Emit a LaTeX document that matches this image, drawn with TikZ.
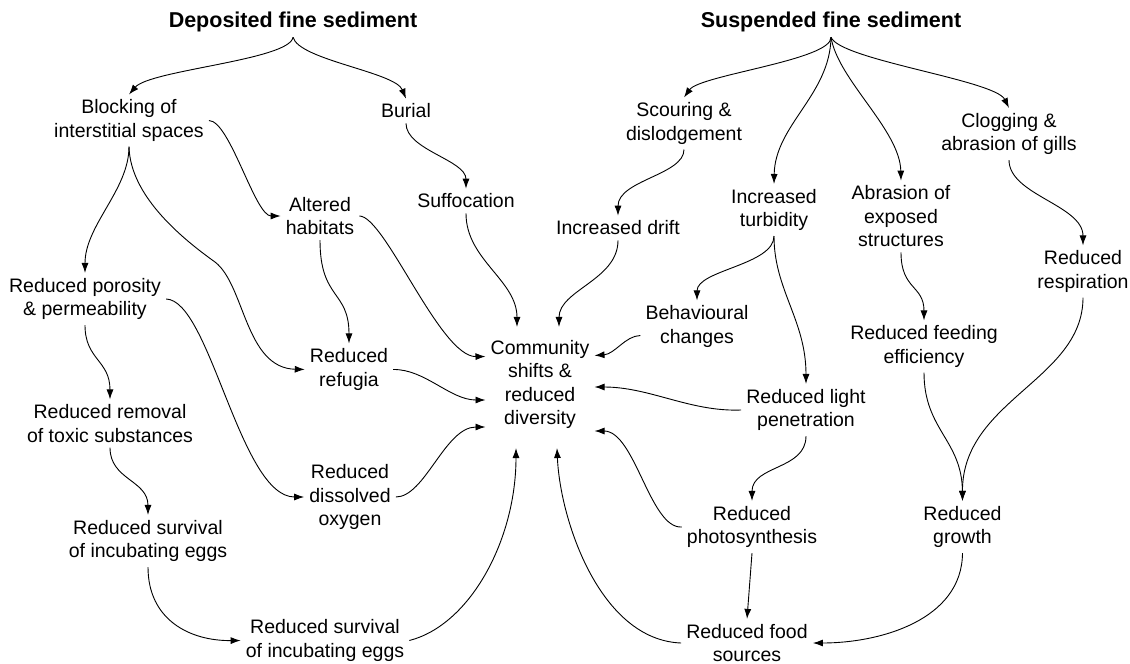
\documentclass[tikz,border=0pt]{standalone}
\usepackage{fontspec}
\setmainfont{Liberation Sans}
\usetikzlibrary{arrows.meta}
\begin{document}
\begin{tikzpicture}[x=1pt,y=-1pt,
  box/.style={align=center,inner sep=5pt,font=\fontsize{19.5}{23.5}\selectfont},
  ttl/.style={align=center,inner sep=5pt,font=\fontsize{21.5}{25}\selectfont\bfseries},
  con/.style={line width=0.9pt,-{Latex[length=10pt,width=7pt]}}]
\useasboundingbox (0,0) rectangle (1130,664);
% left side nodes
\node[ttl] (tdep) at (293,22) {Deposited fine sediment};
\node[box] (blk) at (129,120.5) {Blocking of\\interstitial spaces};
\node[box] (bur) at (406,111) {Burial};
\node[box] (suf) at (466,201) {Suffocation};
\node[box] (alt) at (320,216) {Altered\\habitats};
\node[box] (por) at (85,299) {Reduced porosity\\\& permeability};
\node[box] (ref) at (349,369.5) {Reduced\\refugia};
\node[box] (rem) at (110,423.5) {Reduced removal\\of toxic substances};
\node[box] (oxy) at (350,497) {Reduced\\dissolved\\oxygen};
\node[box] (sv1) at (148,541) {Reduced survival\\of incubating eggs};
\node[box] (sv2) at (325,640.5) {Reduced survival\\of incubating eggs};
\node[box] (com) at (540,384.5) {Community\\shifts \&\\reduced\\diversity};
% right side nodes
\node[ttl] (tsus) at (831,22) {Suspended fine sediment};
\node[box] (sco) at (684,123.5) {Scouring \&\\dislodgement};
\node[box] (dri) at (618,228) {Increased drift};
\node[box] (tur) at (774,210) {Increased\\turbidity};
\node[box] (abr) at (901,216.5) {Abrasion of\\exposed\\structures};
\node[box] (clo) at (1009,134) {Clogging \&\\abrasion of gills};
\node[box] (res) at (1083,271.5) {Reduced\\respiration};
\node[box] (beh) at (697,326.5) {Behavioural\\changes};
\node[box] (fee) at (924,346.5) {Reduced feeding\\efficiency};
\node[box] (lig) at (806,410) {Reduced light\\penetration};
\node[box] (pho) at (752,527) {Reduced\\photosynthesis};
\node[box] (gro) at (962.5,527) {Reduced\\growth};
\node[box] (foo) at (747,643) {Reduced food\\sources};
% left connectors
\draw[con] (tdep.south) .. controls (290,60) and (150,70) .. (blk.north);
\draw[con] (tdep.south) .. controls (299,60) and (395,72) .. (bur.north);
\draw[con] (blk.south) .. controls (129,190) and (85,225) .. (por.north);
\draw[con] (blk.south) .. controls (130,190) and (170,230) .. (215,262) .. controls (245,285) and (245,368) .. (ref.west);
\draw[con] (blk.east) .. controls (230,121) and (255,216) .. (alt.west);
\draw[con] (bur.south) .. controls (406,150) and (466,160) .. (suf.north);
\draw[con] (alt.south) .. controls (320,300) and (349,290) .. (ref.north);
\draw[con] (alt.east) .. controls (385,216) and (440,357) .. ([yshift=28pt]com.west);
\draw[con] (suf.south) .. controls (466,260) and (517,280) .. ([xshift=-23pt,yshift=8pt]com.north);
\draw[con] (ref.east) .. controls (425,369) and (450,400) .. ([yshift=-15.5pt]com.west);
\draw[con] (oxy.east) .. controls (425,497) and (445,427) .. ([yshift=-42.5pt]com.west);
\draw[con] (por.east) .. controls (210,300) and (240,497) .. (oxy.west);
\draw[con] (por.south) .. controls (85,360) and (110,360) .. (rem.north);
\draw[con] (rem.south) .. controls (110,480) and (148,480) .. (sv1.north);
\draw[con] (sv1.south) .. controls (148,620) and (190,641) .. (sv2.west);
\draw[con] (sv2.east) .. controls (470,625) and (516,540) .. ([xshift=-24pt,yshift=-14pt]com.south);
% right connectors
\draw[con] (tsus.south) .. controls (832,60) and (700,75) .. (sco.north);
\draw[con] (tsus.south) .. controls (830,95) and (775,125) .. (tur.north);
\draw[con] (tsus.south) .. controls (838,80) and (900,130) .. (abr.north);
\draw[con] (tsus.south) .. controls (840,60) and (995,80) .. (clo.north);
\draw[con] (sco.south) .. controls (684,175) and (618,180) .. (dri.north);
\draw[con] (dri.south) .. controls (618,280) and (559,290) .. ([xshift=19pt,yshift=8pt]com.north);
\draw[con] (tur.south) .. controls (774,265) and (697,270) .. (beh.north);
\draw[con] (tur.south) .. controls (774,290) and (806,320) .. (lig.north);
\draw[con] ([yshift=-9pt]beh.west) .. controls (625,336) and (615,354) .. ([yshift=29pt]com.east);
\draw[con] (lig.west) .. controls (690,412) and (650,387) .. ([yshift=-2.5pt]com.east);
\draw[con] (lig.south) .. controls (806,470) and (752,465) .. (pho.north);
\draw[con] (pho.west) .. controls (650,529) and (635,431) .. ([yshift=-46.5pt]com.east);
\draw[con] (pho.south) -- (foo.north);
\draw[con] (foo.west) .. controls (600,640) and (560,520) .. ([xshift=17pt,yshift=-14pt]com.south);
\draw[con] (abr.south) .. controls (901,290) and (924,285) .. (fee.north);
\draw[con] (clo.south) .. controls (1009,195) and (1083,205) .. (res.north);
\draw[con] (fee.south) .. controls (924,430) and (962,440) .. (gro.north);
\draw[con] (res.south) .. controls (1083,380) and (962,400) .. (gro.north);
\draw[con] (gro.south) .. controls (962,620) and (880,643) .. (foo.east);
\end{tikzpicture}
\end{document}
